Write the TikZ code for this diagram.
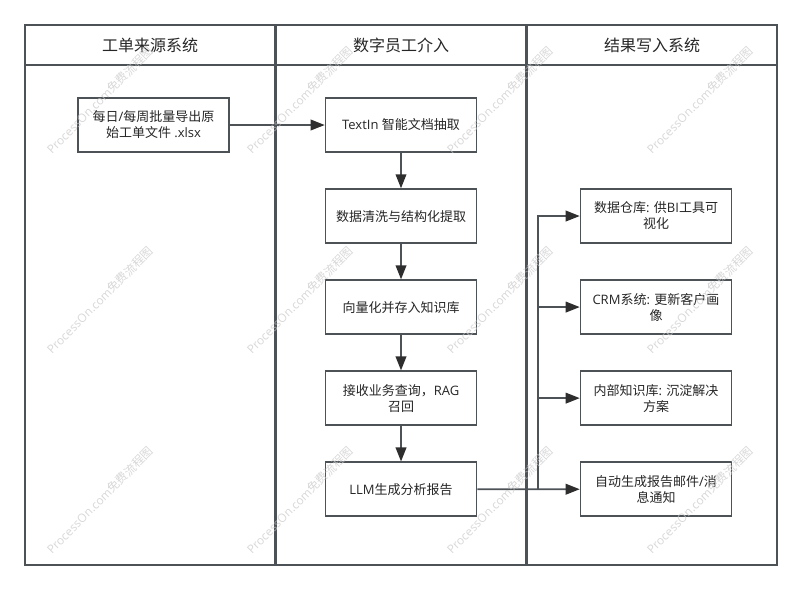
\documentclass[tikz,border=0pt]{standalone}
\usepackage{fontspec}
\setmainfont{Open Sans}
\newfontfamily\cjk{Noto Sans CJK SC}
\usetikzlibrary{arrows.meta,positioning}
\newcommand{\zh}[1]{{\cjk #1}}
\definecolor{lanecol}{HTML}{4D5257}
\definecolor{tipcol}{HTML}{2E2E2E}
\tikzset{
  lanehead/.style = {draw=lanecol, line width=1.2pt, minimum width=187.5pt,
    minimum height=30pt, inner sep=0pt, text=black!85,
    font=\fontsize{12pt}{15pt}\selectfont},
  lanebody/.style = {draw=lanecol, line width=1.2pt, minimum width=187.5pt,
    minimum height=375pt, inner sep=0pt},
  stepbox/.style = {draw=lanecol, line width=1.2pt, fill=white, align=center,
    minimum width=113.25pt, minimum height=40.5pt, inner sep=0pt,
    text=black!85, font=\fontsize{9.75pt}{12pt}\selectfont},
  flow/.style = {draw=lanecol, line width=1.2pt,
    -{Triangle[length=10.5pt,width=8pt,color=tipcol,fill=tipcol]}},
  stamp/.style = {rotate=45, text=black!22, opacity=.7, inner sep=0pt,
    font=\fontsize{8.85pt}{11pt}\selectfont}}

\begin{document}
\begin{tikzpicture}[x=0.75pt,y=-0.75pt,node distance=26.6pt]
\useasboundingbox (0,0) rectangle (802,590);

\node [lanehead] (headA) at (150,45) {\zh{工单来源系统}};
\node [lanehead] (headB) at (401,45) {\zh{数字员工介入}};
\node [lanehead] (headC) at (652,45) {\zh{结果写入系统}};
\node [lanebody] (laneA) at (150,315) {};
\node [lanebody] (laneB) at (401,315) {};
\node [lanebody] (laneC) at (652,315) {};

\node [stepbox] (export) at (153.5,125) {\zh{每日}/\zh{每周批量导出原}\\\zh{始工单文件} .xlsx};

\node [stepbox] (textin) at (401,125) {TextIn \zh{智能文档抽取}};
\node [stepbox, below=of textin] (clean) {\zh{数据清洗与结构化提取}};
\node [stepbox, below=of clean] (vector) {\zh{向量化并存入知识库}};
\node [stepbox, below=of vector] (query) {\zh{接收业务查询，}RAG\\\zh{召回}};
\node [stepbox, below=of query] (report) {LLM\zh{生成分析报告}};

\node [stepbox] (dw) at (656,216) {\zh{数据仓库}: \zh{供}BI\zh{工具可}\\\zh{视化}};
\node [stepbox, below=of dw] (crm) {CRM\zh{系统}: \zh{更新客户画}\\\zh{像}};
\node [stepbox, below=of crm] (kb) {\zh{内部知识库}: \zh{沉淀解决}\\\zh{方案}};
\node [stepbox, below=of kb] (mail) {\zh{自动生成报告邮件}/\zh{消}\\\zh{息通知}};

\coordinate (trunk) at (538,489);

\draw [flow] (export) -- (textin);
\draw [flow] (textin) -- (clean);
\draw [flow] (clean) -- (vector);
\draw [flow] (vector) -- (query);
\draw [flow] (query) -- (report);
\draw [flow] (report) -- (mail);
\draw [flow] (trunk) |- (kb);
\draw [flow] (trunk) |- (crm);
\draw [flow] (trunk) |- (dw);

% watermark
\foreach \wx in {100,300,500,700}
  \foreach \wy in {100,300,500}
    \node [stamp] (stamp\wx\wy) at (\wx,\wy) {ProcessOn.com\zh{免费流程图}};
\end{tikzpicture}
\end{document}
